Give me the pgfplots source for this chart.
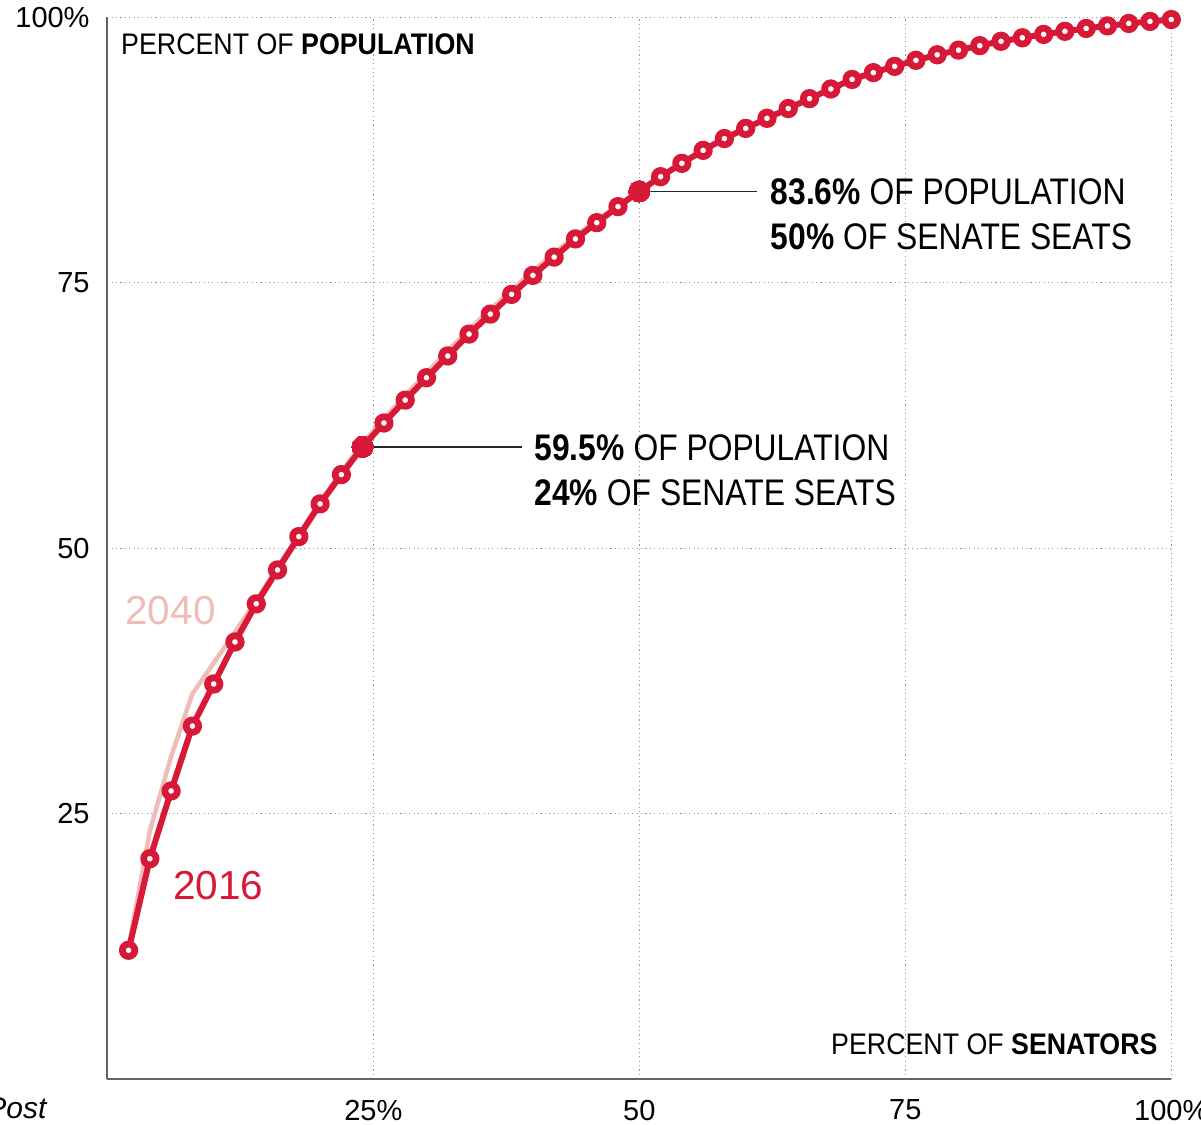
\documentclass[border=0pt]{standalone}
\usepackage{fontspec}
\setmainfont{Liberation Sans}
\newfontfamily\condA[FakeStretch=0.86]{Liberation Sans}
\newfontfamily\condB[FakeStretch=0.9]{Liberation Sans}
\usepackage{pgfplots}
\pgfplotsset{compat=1.18}
\definecolor{wpred}{RGB}{215,25,55}
\definecolor{wppink}{RGB}{240,188,182}
\definecolor{axisgray}{RGB}{100,100,100}
\definecolor{gridgray}{RGB}{150,150,150}
\begin{document}
\begin{tikzpicture}
\begin{axis}[
  at={(0pt,0pt)}, anchor=south west,
  scale only axis, width=425.6pt, height=424.8pt,
  xmin=0, xmax=100, ymin=0, ymax=100,
  axis lines=left,
  axis line style={-, draw=axisgray, line width=0.8pt},
  xtick={25,50,75,100}, xticklabels={25\%,50,75,100\%},
  ytick={25,50,75,100}, yticklabels={25,50,75,100\%},
  major tick length=0pt, tick style={draw=none},
  grid=major,
  major grid style={gridgray, line width=0.45pt, dash pattern=on 0.45pt off 1.3pt},
  ticklabel style={font=\fontsize{11.6}{13}\selectfont, inner sep=0pt},
  xticklabel style={anchor=north, yshift=-8.1pt},
  yticklabel style={anchor=east, xshift=-6.9pt},
  /pgf/number format/assume math mode=true,
  clip=false,
]
% 2040 projection
\addplot[wppink, line width=1.8pt, line join=round] coordinates {
(2,12.4) (4,23.4) (6,30.4) (8,36.3) (10,39.2) (12,42.1) (14,45.1) (16,48.2)
(18,51.3) (20,54.4) (22,57.2) (24,59.9) (26,62.2) (28,64.4) (30,66.5) (32,68.6)
(34,70.6) (36,72.5) (38,74.3) (40,76.1) (42,77.8) (44,79.4) (46,80.9) (48,82.3)
(50,83.7) (52,85.0) (54,86.3) (56,87.5) (58,88.6) (60,89.6) (62,90.5) (64,91.4)
(66,92.3) (68,93.2) (70,94.1) (72,94.8) (74,95.4) (76,96.0) (78,96.5) (80,96.95)
(82,97.35) (84,97.75) (86,98.1) (88,98.4) (90,98.7) (92,98.95) (94,99.2) (96,99.4)
(98,99.6) (100,99.8)
};
% 2016
\addplot[wpred, line width=2.4pt, line join=round, mark=*, mark size=2.5pt,
  mark options={solid, fill=white, draw=wpred, line width=2.7pt}] coordinates {
(2,12.15) (4,20.77) (6,27.15) (8,33.26) (10,37.22) (12,41.18) (14,44.77) (16,47.96)
(18,51.10) (20,54.18) (22,56.94) (24,59.55) (26,61.80) (28,63.95) (30,66.06) (32,68.11)
(34,70.17) (36,72.05) (38,73.91) (40,75.70) (42,77.42) (44,79.13) (46,80.66) (48,82.17)
(50,83.61) (52,84.99) (54,86.25) (56,87.47) (58,88.58) (60,89.54) (62,90.49) (64,91.41)
(66,92.34) (68,93.25) (70,94.15) (72,94.79) (74,95.38) (76,95.95) (78,96.47) (80,96.91)
(82,97.33) (84,97.74) (86,98.07) (88,98.39) (90,98.68) (92,98.95) (94,99.19) (96,99.42)
(98,99.61) (100,99.79)
};
% highlighted points
\addplot[only marks, mark=*, mark size=4.3pt,
  mark options={fill=wpred, draw=wpred, line width=0pt}] coordinates {(24,59.55) (50,83.61)};

\draw[black!85, line width=0.6pt] (axis cs:24,59.55) -- (axis cs:39,59.55);
\draw[black!85, line width=0.6pt] (axis cs:50,83.61) -- (axis cs:61.1,83.61);

\node[anchor=base west, inner sep=0pt, font=\condA\fontsize{14.8}{18}\selectfont] at (axis cs:40.1,58.3) {\textbf{59.5\%} OF POPULATION};
\node[anchor=base west, inner sep=0pt, font=\condA\fontsize{14.8}{18}\selectfont] at (axis cs:40.1,54.06) {\textbf{24\%} OF SENATE SEATS};
\node[anchor=base west, inner sep=0pt, font=\condA\fontsize{14.8}{18}\selectfont] at (axis cs:62.3,82.35) {\textbf{83.6\%} OF POPULATION};
\node[anchor=base west, inner sep=0pt, font=\condA\fontsize{14.8}{18}\selectfont] at (axis cs:62.3,78.12) {\textbf{50\%} OF SENATE SEATS};

\node[anchor=base west, inner sep=0pt, font=\condB\fontsize{11.9}{14}\selectfont] at (axis cs:1.26,96.5) {PERCENT OF \textbf{POPULATION}};
\node[anchor=base east, inner sep=0pt, font=\condB\fontsize{11.9}{14}\selectfont] at (axis cs:98.75,2.29) {PERCENT OF \textbf{SENATORS}};

\node[anchor=base west, inner sep=0pt, text=wppink, font=\fontsize{16.2}{19}\selectfont] at (axis cs:1.66,42.87) {2040};
\node[anchor=base west, inner sep=0pt, text=wpred, font=\fontsize{16.2}{19}\selectfont] at (axis cs:6.15,16.95) {2016};

\node[anchor=base east, inner sep=0pt, font=\itshape\fontsize{12}{14}\selectfont] at (axis cs:-5.67,-3.67) {Post};
\end{axis}
\pgfresetboundingbox
\path[use as bounding box] (-42.92pt,-18.28pt) rectangle (437.48pt,431.72pt);
\end{tikzpicture}
\end{document}
